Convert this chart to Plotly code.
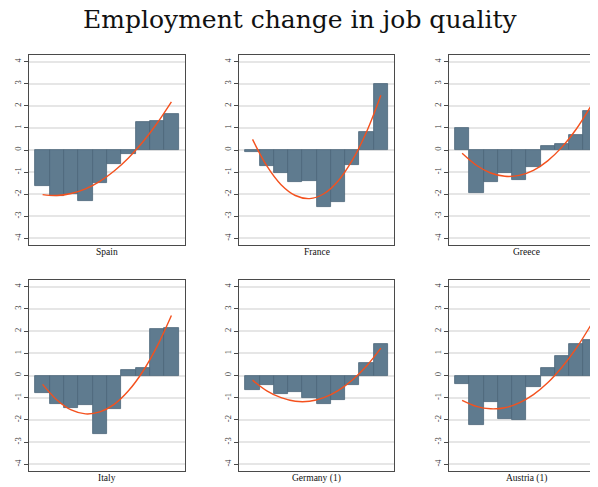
import plotly.graph_objects as go

# The page body has an 8px margin, so the figure is laid out in page pixels minus 8.
OFF = 8
W, H = 598 - OFF, 487 - OFF

deciles = [1, 2, 3, 4, 5, 6, 7, 8, 9, 10]
countries = ["Spain", "France", "Greece", "Italy", "Germany (1)", "Austria (1)"]

spain_bars = [-1.65, -2.10, -2.00, -2.30, -1.50, -0.63, -0.20, 1.28, 1.32, 1.65]
france_bars = [-0.09, -0.72, -1.02, -1.43, -1.40, -2.59, -2.35, -0.68, 0.83, 2.98]
greece_bars = [0.98, -1.93, -1.43, -1.02, -1.38, -0.75, 0.20, 0.29, 0.69, 1.76]
italy_bars = [-0.79, -1.29, -1.48, -1.35, -2.64, -1.52, 0.23, 0.32, 2.08, 2.12]
germany_bars = [-0.67, -0.41, -0.83, -0.74, -1.00, -1.27, -1.12, -0.41, 0.56, 1.42]
austria_bars = [-0.36, -2.23, -1.20, -1.97, -2.00, -0.52, 0.32, 0.88, 1.41, 1.59]

spain_fit = [-2.02, -2.06, -1.97, -1.76, -1.42, -0.95, -0.36, 0.36, 1.21, 2.18]
france_fit = [0.48, -0.72, -1.57, -2.06, -2.20, -1.98, -1.40, -0.46, 0.83, 2.48]
greece_fit = [-0.15, -0.69, -1.04, -1.19, -1.15, -0.92, -0.49, 0.13, 0.94, 1.95]
italy_fit = [-0.40, -1.10, -1.55, -1.73, -1.64, -1.30, -0.69, 0.18, 1.31, 2.70]
germany_fit = [-0.21, -0.69, -1.00, -1.16, -1.16, -1.00, -0.68, -0.20, 0.43, 1.23]
austria_fit = [-1.12, -1.39, -1.50, -1.45, -1.23, -0.86, -0.33, 0.37, 1.22, 2.24]

y_ticks = [-4, -3, -2, -1, 0, 1, 2, 3, 4]
title_text = "Employment change in job quality"

bars_all = [spain_bars, france_bars, greece_bars, italy_bars, germany_bars, austria_bars]
fits_all = [spain_fit, france_fit, greece_fit, italy_fit, germany_fit, austria_fit]

BAR_COLOR = "#5f7b8f"
BAR_EDGE = "#4b6679"
FIT_COLOR = "#f4511e"
FRAME = "#4a4a4a"

# panel frames in page pixels (left, right, x max)
cols_px = [(29, 185, 10.95), (239, 394, 10.92), (449, 598, 10.53)]
rows_px = [(55, 245), (280, 471)]
x_left = [0.05, 0.05, 0.08]


def px_x(p):
    return (p - OFF) / W


def px_y(p):
    return 1 - (p - OFF) / H


fig = go.Figure()
annotations = []
for i in range(6):
    r, c = divmod(i, 3)
    n = i + 1
    xa = "x" if n == 1 else f"x{n}"
    ya = "y" if n == 1 else f"y{n}"
    fig.add_trace(go.Bar(x=deciles, y=bars_all[i], width=1.0,
                         marker=dict(color=BAR_COLOR, line=dict(color=BAR_EDGE, width=0.8)),
                         xaxis=xa, yaxis=ya, showlegend=False))
    fig.add_trace(go.Scatter(x=deciles, y=fits_all[i], mode="lines",
                             line=dict(color=FIT_COLOR, width=1.4, shape="spline", smoothing=1.0),
                             xaxis=xa, yaxis=ya, showlegend=False))
    l, rr, xmax = cols_px[c]
    t, b = rows_px[r]
    xd = [px_x(l), min(1.0, px_x(rr))]
    yd = [px_y(b), px_y(t)]
    xkey = "xaxis" if n == 1 else f"xaxis{n}"
    ykey = "yaxis" if n == 1 else f"yaxis{n}"
    fig.layout[xkey] = dict(domain=xd, range=[x_left[c], xmax], anchor=ya,
                            showticklabels=False, ticks="", showgrid=False, zeroline=False,
                            showline=True, linecolor=FRAME, linewidth=1, mirror=True)
    fig.layout[ykey] = dict(domain=yd, range=[-4.3, 4.3], anchor=xa,
                            tickvals=y_ticks, ticktext=[str(v) for v in y_ticks],
                            tickangle=-90, ticks="outside", ticklen=4, tickcolor=FRAME,
                            tickfont=dict(family="Liberation Serif", size=8.5, color="#333"),
                            showgrid=True, gridcolor="#e6e6e6", gridwidth=1.5,
                            zeroline=False, showline=True, linecolor=FRAME, linewidth=1,
                            mirror=(c != 2))
    full_right = l + 155.5
    cx = (l + full_right) / 2
    label_y = 252 if r == 0 else 478
    annotations.append(dict(text=countries[i], x=px_x(cx), y=px_y(label_y),
                            xref="paper", yref="paper", showarrow=False,
                            xanchor="center", yanchor="middle",
                            font=dict(family="Liberation Serif", size=9.5, color="#111")))

annotations.append(dict(text=title_text, x=px_x(300), y=px_y(19.5), xref="paper", yref="paper",
                        showarrow=False, xanchor="center", yanchor="middle",
                        font=dict(family="DejaVu Serif", size=25, color="#111")))

fig.update_layout(width=W, height=H, margin=dict(l=0, r=0, t=0, b=0),
                  paper_bgcolor="white", plot_bgcolor="white",
                  bargap=0, annotations=annotations)

fig.write_html("out.html")
